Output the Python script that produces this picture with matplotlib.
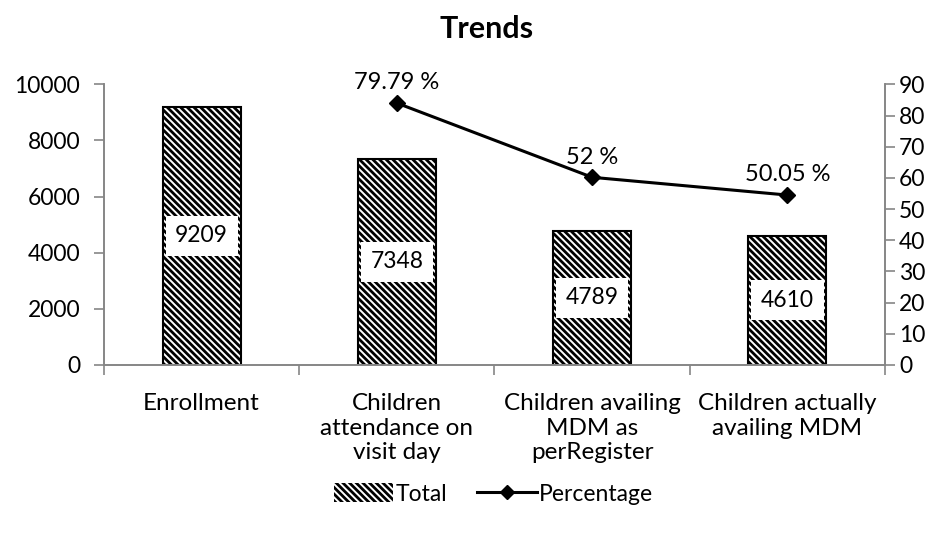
import numpy as np
import matplotlib
matplotlib.use('Agg')
import matplotlib.pyplot as plt
from matplotlib.lines import Line2D
from matplotlib.patches import Patch

categories = ['Enrollment', 'Children\nattendance on\nvisit day',
              'Children availing\nMDM as\nperRegister', 'Children actually\navailing MDM']
totals = [9209, 7348, 4789, 4610]
pct_cats = [1, 2, 3]
pct_vals = [84.0, 60.2, 54.5]
pct_labels = ['79.79 %', '52 %', '50.05 %']

plt.rcParams['font.family'] = ['Lato', 'DejaVu Sans']
plt.rcParams['hatch.linewidth'] = 2.0
grey = '#868686'
hatch = '\\\\\\\\\\'

fig = plt.figure(figsize=(9.4, 5.34), dpi=100)
ax = fig.add_axes([0.1106, 0.3165, 0.8309, 0.5255])
ax2 = ax.twinx()

x = np.arange(len(categories))
ax.bar(x, totals, width=0.4, color='white', edgecolor='black', linewidth=1.5,
       hatch=hatch, zorder=2)
for xi, v in zip(x, totals):
    ax.text(xi, v / 2, str(v), ha='center', va='center', fontsize=16.5, zorder=3,
            bbox=dict(facecolor='white', edgecolor='none', pad=7))

ax2.plot(pct_cats, pct_vals, color='black', linewidth=2.2, marker='D', markersize=8)
for xi, v, lab in zip(pct_cats, pct_vals, pct_labels):
    ax2.annotate(lab, (xi, v), xytext=(0, 7), textcoords='offset points',
                 ha='center', va='bottom', fontsize=17)

ax.set_xlim(-0.5, 3.5)
ax.set_ylim(0, 10000)
ax.set_yticks(range(0, 10001, 2000))
ax2.set_ylim(0, 90)
ax2.set_yticks(range(0, 91, 10))

ax.set_xticks(x)
ax.set_xticklabels(categories, fontsize=17.5, linespacing=1.22, va='top')
ax.set_xticks(np.arange(-0.5, 4, 1), minor=True)
ax.tick_params(axis='x', which='major', length=0, pad=20)
ax.tick_params(axis='x', which='minor', length=7, color=grey, width=1.2)
ax.tick_params(axis='y', labelsize=16.5, length=7, color=grey, width=1.2, pad=10)
ax2.tick_params(axis='y', labelsize=16.5, length=7, color=grey, width=1.2, pad=3)

for a in (ax, ax2):
    a.spines['top'].set_visible(False)
    for s in ('left', 'right', 'bottom'):
        a.spines[s].set_color(grey)
        a.spines[s].set_linewidth(1.2)

fig.text(0.518, 0.945, 'Trends', ha='center', va='center', fontsize=22, fontweight='bold')

handles = [Patch(facecolor='white', edgecolor='black', linewidth=0, hatch=hatch, label='Total'),
           Line2D([0], [0], color='black', linewidth=2.2, marker='D', markersize=7,
                  label='Percentage')]
fig.legend(handles=handles, loc='center', bbox_to_anchor=(0.525, 0.075), ncol=2,
           frameon=False, fontsize=16.5, handlelength=2.6, handleheight=0.9,
           handletextpad=0.1, columnspacing=1.3)

fig.savefig('out.png', dpi=100)
